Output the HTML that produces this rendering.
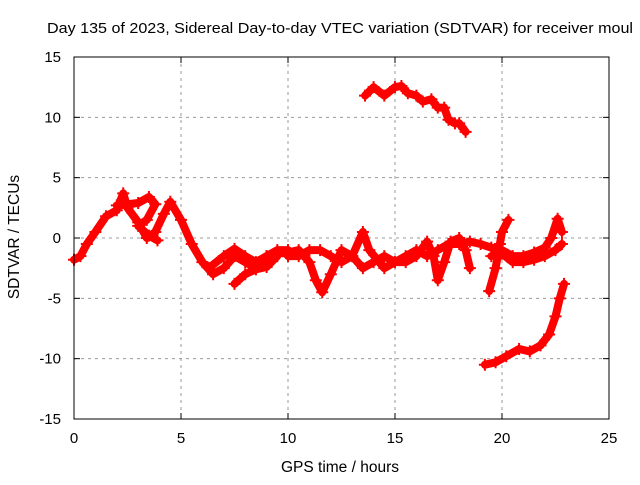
<!DOCTYPE html>
<html><head><meta charset="utf-8"><style>
body{margin:0;background:#fff;width:640px;height:480px;overflow:hidden}
svg{font-family:"Liberation Sans",sans-serif;font-size:15px}
</style></head><body>
<svg id="c" width="640" height="480">
<text x="47" y="33" font-size="15" textLength="586" lengthAdjust="spacingAndGlyphs">Day 135 of 2023, Sidereal Day-to-day VTEC variation (SDTVAR) for receiver moul</text>
<text x="340" y="472" font-size="15.5" text-anchor="middle">GPS time / hours</text>
<text transform="translate(19,237) rotate(-90)" font-size="15.5" text-anchor="middle">SDTVAR / TECUs</text>
<g id="grid"></g><g id="ticks"></g><g id="series"></g>
<rect x="74" y="57" width="535" height="362" fill="none" stroke="#000"/>
</svg>
<script>
const xTicks=[0,5,10,15,20,25];
const yTicks=[-15,-10,-5,0,5,10,15];
const trackA=[[0,-1.8],[0.3,-1.5],[0.6,-0.5],[1,0.5],[1.5,1.8],[2,2.3],[2.3,3.7],[2.5,2.5],[3,1.3],[3.4,0],[3.8,0.5],[4.2,2],[4.5,3],[5,1.5],[5.5,-0.5],[6,-2],[6.5,-3],[7,-2.5],[7.5,-1.5],[8,-2],[8.5,-2.5],[9,-1.5],[9.5,-1.2],[10,-1.3]];
const trackB=[[2,2.7],[2.5,2.8],[3,2.9],[3.5,3.4],[3.8,2.8],[3.4,1.5],[3.0,1.0],[3.5,0.2],[3.9,-0.2]];
const trackC=[[6.3,-2.5],[7,-1.5],[7.5,-0.9],[8,-1.5],[8.5,-2],[9,-1.5],[9.5,-1],[10,-1]];
const trackD=[[7.5,-3.8],[8,-3],[8.5,-2.6],[9,-2.4],[9.5,-1.5]];
const trackE=[[10,-1.2],[10.5,-1],[11,-2],[11.3,-3.5],[11.6,-4.5],[12,-3],[12.5,-1],[13,-1.5],[13.5,-2.5],[14,-2],[14.5,-1.5],[15,-2],[15.5,-1.5],[16,-1],[16.5,-1.5],[17,-1],[17.5,-0.5],[18,-0.5],[18.5,-0.3],[19,-0.5],[19.5,-0.8],[20,-1],[20.5,-1.5],[21,-1.5],[21.5,-1.2],[22,-0.8],[22.3,0],[22.6,1.6],[22.8,0.5]];
const trackF=[[10,-1.5],[10.5,-1.5],[11,-1],[11.5,-1],[12,-1.5],[12.5,-2],[13,-1.5],[13.5,0.5],[13.8,-1],[14.5,-2.5],[15,-2],[15.5,-2],[16,-1.5],[16.5,-0.3],[16.8,-1.5],[17,-3.5],[17.3,-2],[17.6,-0.3],[18,0],[18.3,-1],[18.5,-2.5]];
const trackG=[[19.5,-1.5],[20,-1.3],[20.5,-2],[21,-2],[21.5,-1.8],[22,-1.5],[22.5,-1],[22.8,-0.5]];
const trackH=[[19.4,-4.4],[19.7,-2.5],[19.9,-0.5],[20,0.5],[20.3,1.5]];
const trackI=[[19.2,-10.5],[19.7,-10.3],[20.2,-9.8],[20.8,-9.2],[21.3,-9.4],[21.8,-8.9],[22.2,-8],[22.5,-6.5],[22.7,-5],[22.9,-3.8]];
const trackJ=[[13.6,11.8],[14,12.5],[14.5,11.8],[15,12.5],[15.3,12.6],[15.6,12],[16,11.8],[16.3,11.3],[16.7,11.5],[17,10.8],[17.3,10.8],[17.5,9.8],[17.8,9.5],[18,9.5],[18.3,8.8]];
const tracks=[trackA,trackB,trackC,trackD,trackE,trackF,trackG,trackH,trackI,trackJ];
const NS="http://www.w3.org/2000/svg";
const X=t=>74+t*535/25, Y=v=>238-v*362/30;
function mk(tag,a,p){const e=document.createElementNS(NS,tag);for(const k in a)e.setAttribute(k,a[k]);p.appendChild(e);return e;}
const grid=document.getElementById('grid'),ticks=document.getElementById('ticks'),ser=document.getElementById('series');
xTicks.forEach(t=>{
 if(t>0&&t<25){const g=mk('line',{x1:X(t),x2:X(t),y1:57,y2:419,stroke:'#999','stroke-dasharray':'3,4'},grid);
 
 }
 mk('line',{x1:X(t),x2:X(t),y1:419,y2:413,stroke:'#000'},ticks);
 mk('line',{x1:X(t),x2:X(t),y1:57,y2:63,stroke:'#000'},ticks);
 const l=mk('text',{x:X(t),y:443,'text-anchor':'middle'},ticks);l.textContent=t;
 
 
});
yTicks.forEach(v=>{
 if(v>-15&&v<15){const g=mk('line',{x1:74,x2:609,y1:Y(v),y2:Y(v),stroke:'#999','stroke-dasharray':'3,4'},grid);
 
 }
 mk('line',{x1:74,x2:80,y1:Y(v),y2:Y(v),stroke:'#000'},ticks);
 mk('line',{x1:603,x2:609,y1:Y(v),y2:Y(v),stroke:'#000'},ticks);
 const l=mk('text',{x:61,y:Y(v)+5,'text-anchor':'end'},ticks);l.textContent=v;
 
 
});
tracks.forEach(tr=>{
 const p=mk('polyline',{points:tr.map(d=>X(d[0])+','+Y(d[1])).join(' '),fill:'none',stroke:'#f00','stroke-width':8,'stroke-linejoin':'round','stroke-linecap':'round'},ser);
 
 
 tr.forEach(d=>{const m=mk('path',{d:`M${X(d[0])-6},${Y(d[1])}h12M${X(d[0])},${Y(d[1])-6}v12`,stroke:'#f00','stroke-width':2},ser);
  
  });
});
</script>
</body></html>
